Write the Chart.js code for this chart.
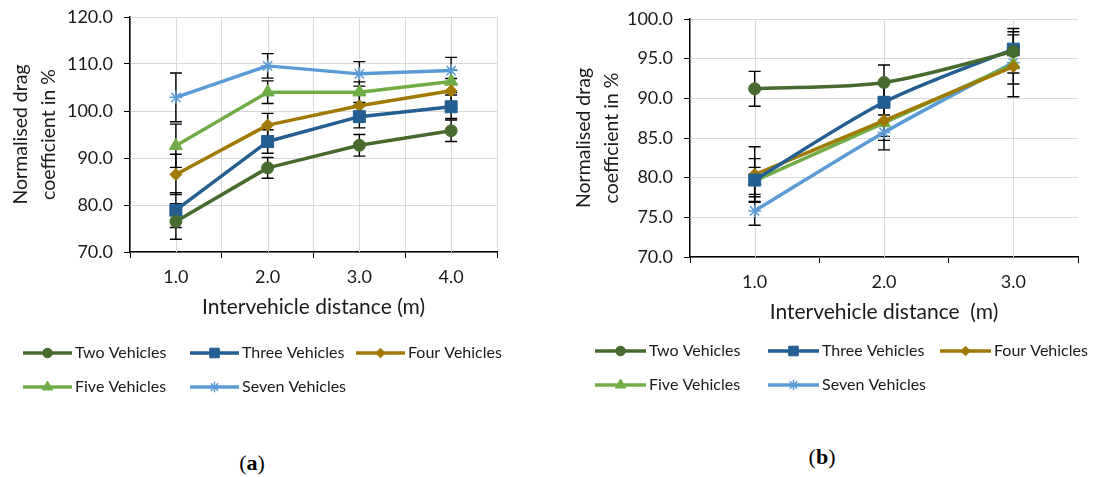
<!DOCTYPE html>
<html>
<head>
<meta charset="utf-8">
<script src="https://cdn.jsdelivr.net/npm/chart.js@4.4.1/dist/chart.umd.min.js"></script>
<style>
  body { margin: 0; background: #fff; width: 1093px; height: 477px; position: relative; overflow: hidden; }
  .panel { position: absolute; top: 0; height: 420px; }
  #panelA { left: 0; width: 545px; }
  #panelB { left: 560px; width: 533px; }
  .cap { position: absolute; font-family: "Liberation Serif", serif; font-size: 22px; color: #000; transform: translate(-50%, -50%); }
  .cap b { font-weight: bold; }
</style>
</head>
<body>
<div class="panel" id="panelA"><canvas id="chartA"></canvas></div>
<div class="panel" id="panelB"><canvas id="chartB"></canvas></div>
<div class="cap" style="left:252px;top:463px">(<b>a</b>)</div>
<div class="cap" style="left:822px;top:457px">(<b>b</b>)</div>
<script>
// ---------- data: panel (a) ----------
const distA = ['1.0', '2.0', '3.0', '4.0'];
const twoA = [76.5, 87.9, 92.7, 95.8];
const threeA = [78.9, 93.5, 98.8, 100.9];
const fourA = [86.5, 97.0, 101.1, 104.3];
const fiveA = [92.6, 104.0, 104.0, 106.3];
const sevenA = [102.9, 109.6, 107.9, 108.6];
const twoErrA = [3.8, 2.2, 2.3, 2.3];
const threeErrA = [3.7, 2.5, 2.4, 2.5];
const fourErrA = [4.3, 2.5, 2.4, 2.6];
const fiveErrA = [4.6, 2.4, 2.2, 2.4];
const sevenErrA = [5.2, 2.6, 2.6, 2.8];

// ---------- data: panel (b) ----------
const distB = ['1.0', '2.0', '3.0'];
const twoB = [91.2, 92.0, 95.9];
const threeB = [79.7, 89.5, 96.2];
const fourB = [80.4, 87.2, 94.0];
const fiveB = [79.6, 86.9, 94.3];
const sevenB = [75.8, 85.7, 94.5];
const twoErrB = [2.2, 2.2, 2.1];
const threeErrB = [2.7, 2.4, 2.2];
const fourErrB = [3.5, 2.0, 2.2];
const fiveErrB = [1.7, 2.2, 1.1];
const sevenErrB = [1.8, 2.2, 4.3];

const seriesNames = ['Two Vehicles', 'Three Vehicles', 'Four Vehicles', 'Five Vehicles', 'Seven Vehicles'];
const seriesColors = ['#476b2e', '#255e91', '#a07a05', '#70ad47', '#5b9bd5'];
const seriesMarkers = ['circle', 'rect', 'rectRot', 'triangle', 'star'];
const markerSizes = [6, 8.5, 6, 7.5, 6.5];

const FONT = 'Lato';
const TEXT = '#1a1a1a';
const GRID = '#d9d9d9';

// ============= PLUGINS =============
// light vertical lines through each category centre
const centerGrid = {
  id: 'centerGrid',
  beforeDatasetsDraw(chart) {
    const { ctx, chartArea, scales } = chart;
    const x = scales.x;
    ctx.save();
    ctx.strokeStyle = GRID;
    ctx.lineWidth = 1;
    x.ticks.forEach(function(t, i) {
      const px = Math.round(x.getPixelForTick(i)) + 0.5;
      ctx.beginPath();
      ctx.moveTo(px, chartArea.top);
      ctx.lineTo(px, chartArea.bottom);
      ctx.stroke();
    });
    ctx.restore();
  }
};

// black +/- error bars with caps, behind the lines
const errorBars = {
  id: 'errorBars',
  beforeDatasetsDraw(chart) {
    const ctx = chart.ctx;
    const yScale = chart.scales.y;
    ctx.save();
    ctx.strokeStyle = '#000';
    ctx.lineWidth = 1.4;
    chart.data.datasets.forEach(function(ds, i) {
      const meta = chart.getDatasetMeta(i);
      meta.data.forEach(function(pt, j) {
        const v = ds.data[j];
        const e = ds.errors[j];
        const yTop = yScale.getPixelForValue(v + e);
        const yBot = yScale.getPixelForValue(v - e);
        ctx.beginPath();
        ctx.moveTo(pt.x, yTop); ctx.lineTo(pt.x, yBot);
        ctx.moveTo(pt.x - 6, yTop); ctx.lineTo(pt.x + 6, yTop);
        ctx.moveTo(pt.x - 6, yBot); ctx.lineTo(pt.x + 6, yBot);
        ctx.stroke();
      });
    });
    ctx.restore();
  }
};

// Excel-like legend: line with marker, two rows
const lineLegend = {
  id: 'lineLegend',
  afterDraw(chart, args, opts) {
    const ctx = chart.ctx;
    ctx.save();
    chart.data.datasets.forEach(function(ds, i) {
      const x = opts.cols[opts.slots[i][0]];
      const y = opts.rows[opts.slots[i][1]];
      ctx.strokeStyle = ds.borderColor;
      ctx.lineWidth = 3.5;
      ctx.beginPath();
      ctx.moveTo(x, y);
      ctx.lineTo(x + opts.lineLen, y);
      ctx.stroke();
      ctx.fillStyle = ds.pointBackgroundColor;
      ctx.strokeStyle = ds.pointBorderColor;
      ctx.lineWidth = ds.pointStyle === 'star' ? 1.5 : 1;
      Chart.helpers.drawPoint(ctx, {
        pointStyle: ds.pointStyle, radius: ds.pointRadius * 0.8, rotation: 0, borderWidth: 1
      }, x + opts.lineLen / 2, y);
      ctx.fillStyle = TEXT;
      ctx.font = '16px ' + FONT;
      ctx.textBaseline = 'middle';
      ctx.textAlign = 'left';
      ctx.fillText(ds.label, x + opts.lineLen + 3, y);
    });
    ctx.restore();
  }
};

function makeDatasets(values, errors, tension) {
  return values.map(function(vals, i) {
    return {
      label: seriesNames[i],
      data: vals,
      errors: errors[i],
      borderColor: seriesColors[i],
      backgroundColor: seriesColors[i],
      pointBackgroundColor: seriesColors[i],
      pointBorderColor: seriesColors[i],
      pointBorderWidth: seriesMarkers[i] === 'star' ? 1.5 : 1,
      pointStyle: seriesMarkers[i],
      pointRadius: markerSizes[i],
      borderWidth: 3.5,
      borderJoinStyle: 'round',
      tension: tension
    };
  });
}

function makeOptions(cfg) {
  return {
    responsive: true,
    maintainAspectRatio: false,
    animation: false,
    layout: { padding: cfg.padding },
    plugins: {
      legend: { display: false },
      tooltip: { enabled: false },
      lineLegend: cfg.legend
    },
    scales: {
      x: {
        offset: true,
        grid: {
          offset: true,
          color: GRID,
          drawOnChartArea: cfg.boundaryGrid,
          tickColor: '#000',
          tickLength: 6
        },
        border: { color: '#000', width: 1.5 },
        ticks: { font: { family: FONT, size: 18 }, color: TEXT, padding: 8 },
        title: {
          display: true,
          text: cfg.xTitle,
          font: { family: FONT, size: 21 },
          color: TEXT,
          padding: { top: 0, bottom: 10 }
        },
        afterFit: function(s) { s.height = 78; }
      },
      y: {
        min: cfg.yMin,
        max: cfg.yMax,
        grid: { color: GRID, tickColor: '#000', tickLength: 6 },
        border: { color: '#000', width: 1.5 },
        ticks: {
          stepSize: cfg.yStep,
          font: { family: FONT, size: 18 },
          color: TEXT,
          padding: 11,
          callback: function(v) { return v.toFixed(1); }
        },
        title: {
          display: true,
          text: ['Normalised drag', 'coefficient in %'],
          font: { family: FONT, size: 19.5, lineHeight: 1.42 },
          color: TEXT,
          padding: { top: cfg.yTitlePad, bottom: 0 }
        },
        afterFit: function(s) {
          s.width = 130;
          // let the layout padding alone decide where the plot starts
          s.paddingTop = 0;
          s.paddingBottom = 0;
        }
      }
    }
  };
}

// ============= CHART (a) =============
new Chart(document.getElementById('chartA'), {
  type: 'line',
  data: {
    labels: distA,
    datasets: makeDatasets(
      [twoA, threeA, fourA, fiveA, sevenA],
      [twoErrA, threeErrA, fourErrA, fiveErrA, sevenErrA], 0)
  },
  options: makeOptions({
    padding: { left: 0, top: 17, right: 48, bottom: 90 },
    boundaryGrid: true,
    xTitle: 'Intervehicle distance (m)',
    yMin: 70, yMax: 120, yStep: 10,
    yTitlePad: 7,
    legend: {
      cols: [23, 190, 356], rows: [353, 387], lineLen: 49,
      slots: [[0, 0], [1, 0], [2, 0], [0, 1], [1, 1]]
    }
  }),
  plugins: [centerGrid, errorBars, lineLegend]
});

// ============= CHART (b) =============
new Chart(document.getElementById('chartB'), {
  type: 'line',
  data: {
    labels: distB,
    datasets: makeDatasets(
      [twoB, threeB, fourB, fiveB, sevenB],
      [twoErrB, threeErrB, fourErrB, fiveErrB, sevenErrB], 0.3)
  },
  options: makeOptions({
    padding: { left: 0, top: 19, right: 15, bottom: 85 },
    boundaryGrid: false,
    xTitle: 'Intervehicle distance  (m)',
    yMin: 70, yMax: 100, yStep: 5,
    yTitlePad: 10,
    legend: {
      cols: [35, 208, 380], rows: [351, 385], lineLen: 51,
      slots: [[0, 0], [1, 0], [2, 0], [0, 1], [1, 1]]
    }
  }),
  plugins: [centerGrid, errorBars, lineLegend]
});
</script>
</body>
</html>
